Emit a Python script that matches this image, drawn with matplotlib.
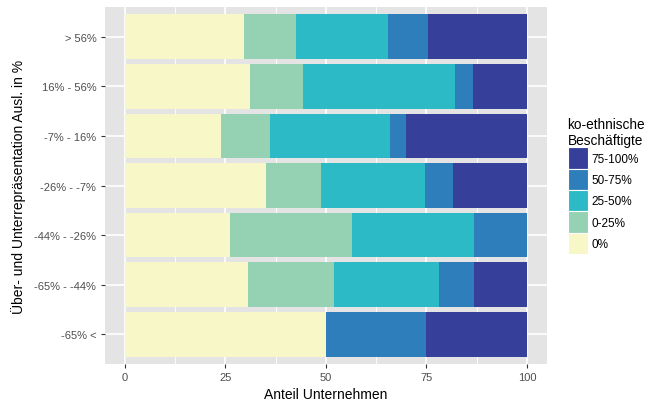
import matplotlib.pyplot as plt
from matplotlib.patches import Patch
import numpy as np

plt.rcParams['font.family'] = ['Liberation Sans', 'DejaVu Sans']

# Kategorien (von oben nach unten)
kategorien = ["> 56%", "16% - 56%", "-7% - 16%", "-26% - -7%",
              "-44% - -26%", "-65% - -44%", "-65% <"]

# Anteile je Klasse ko-ethnischer Beschäftigter
anteil_0 = [29.6, 31.2, 24.0, 35.0, 26.1, 30.6, 50.0]
anteil_0_25 = [13.0, 13.2, 12.1, 13.8, 30.4, 21.4, 0.0]
anteil_25_50 = [22.9, 37.8, 29.8, 25.8, 30.3, 26.2, 0.0]
anteil_50_75 = [9.9, 4.4, 4.0, 6.9, 13.2, 8.6, 25.0]
anteil_75_100 = [24.6, 13.4, 30.1, 18.5, 0.0, 13.2, 25.0]

klassen = ["0%", "0-25%", "25-50%", "50-75%", "75-100%"]
farben = ["#F7F7C7", "#95D2B4", "#2CBAC7", "#2E7EBB", "#36409A"]

serien = [anteil_0, anteil_0_25, anteil_25_50, anteil_50_75, anteil_75_100]

fig = plt.figure(figsize=(6.6, 4.02), dpi=100)
ax = fig.add_axes([0.1585, 0.092, 0.829 - 0.1585, 0.980 - 0.092])
ax.set_facecolor("#E4E4E4")

n = len(kategorien)
y = np.arange(n)[::-1] + 1  # oberste Kategorie oben
links = np.zeros(n)
for werte, farbe in zip(serien, farben):
    werte = np.array(werte)
    ax.barh(y, werte, left=links, height=0.9, color=farbe, zorder=3)
    links += werte

ax.set_xlim(-5, 105)
ax.set_ylim(0.4, n + 0.6)

# Gitterlinien wie ggplot
for v in [12.5, 37.5, 62.5, 87.5]:
    ax.axvline(v, color="white", lw=0.6, zorder=1)
for v in [0, 25, 50, 75, 100]:
    ax.axvline(v, color="white", lw=1.2, zorder=1)
for v in y:
    ax.axhline(v, color="white", lw=1.2, zorder=1)

ax.set_xticks([0, 25, 50, 75, 100])
ax.set_xticklabels(["0", "25", "50", "75", "100"])
ax.set_yticks(y)
ax.set_yticklabels(kategorien)
ax.tick_params(axis="both", colors="#333333", labelcolor="#4D4D4D",
               labelsize=8, length=3, width=0.8, pad=3)
for s in ax.spines.values():
    s.set_visible(False)

ax.set_xlabel("Anteil Unternehmen", fontsize=10, color="black", labelpad=3)
ax.set_ylabel("Über- und Unterrepräsentation Ausl. in %", fontsize=10,
              color="black", labelpad=6)

handles = [Patch(facecolor=f, edgecolor="white", lw=0.8)
           for f in farben[::-1]]
leg = fig.legend(handles, klassen[::-1], title="ko-ethnische\nBeschäftigte",
                 loc="upper left", bbox_to_anchor=(0.860, 0.706),
                 frameon=False, fontsize=8.5, title_fontsize=9.8,
                 handlelength=1.75, handleheight=2.4, handletextpad=0.25,
                 labelspacing=0.0, borderaxespad=0, borderpad=0)
leg._legend_box.align = "left"

fig.savefig("out.png", dpi=100)
